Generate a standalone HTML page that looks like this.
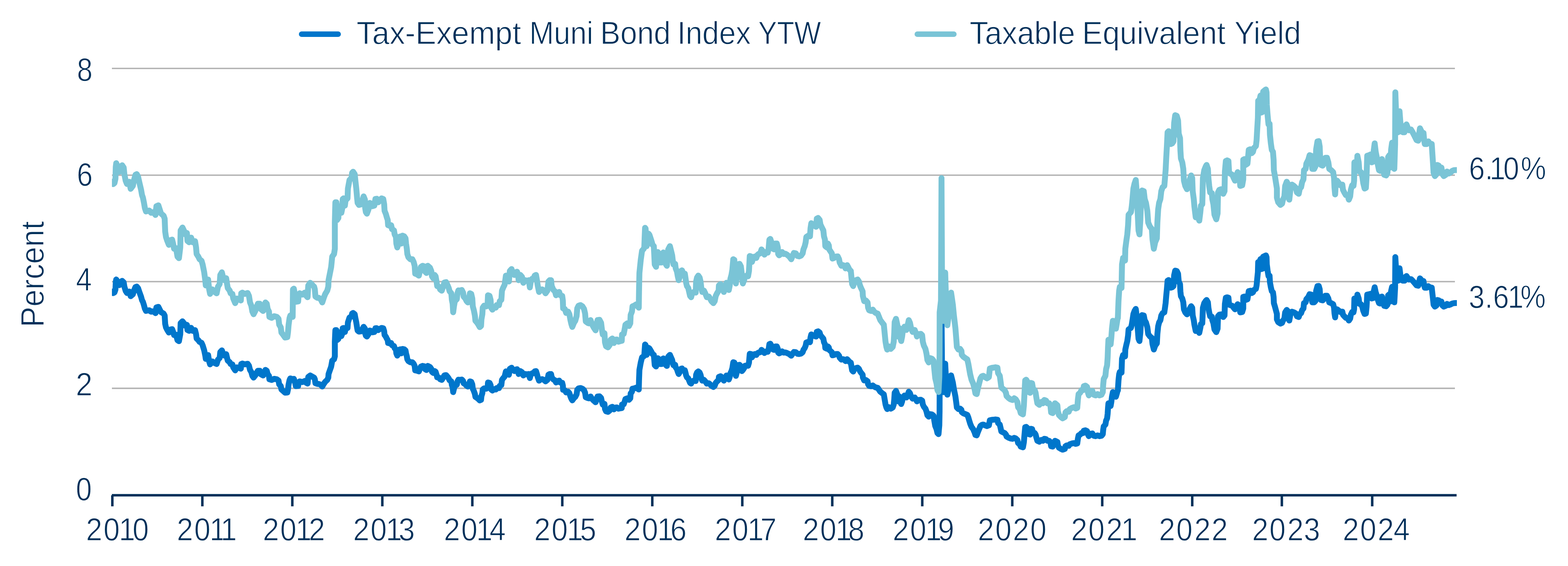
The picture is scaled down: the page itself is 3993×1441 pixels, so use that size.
<!DOCTYPE html>
<html lang="en"><head><meta charset="utf-8"><title>Tax-Exempt Muni Bond Index YTW vs Taxable Equivalent Yield</title>
<style>html,body{margin:0;padding:0;background:#fff;width:3993px;height:1441px;overflow:hidden}svg{display:block}text{font-family:"Liberation Sans",sans-serif;fill:#01305a;stroke:#fff;stroke-width:1.4px;paint-order:fill stroke}</style></head><body>
<svg width="3993" height="1441" viewBox="0 0 3993 1441">
<rect width="3993" height="1441" fill="#fff"/>
<g stroke="#b2b2b2" stroke-width="3.6" fill="none">
<line x1="285" y1="174.3" x2="3705" y2="174.3"/>
<line x1="285" y1="446.0" x2="3705" y2="446.0"/>
<line x1="285" y1="717.0" x2="3705" y2="717.0"/>
<line x1="285" y1="988.6" x2="3705" y2="988.6"/>
</g>
<defs><clipPath id="pc"><rect x="285" y="0" width="3424.9" height="1441"/></clipPath></defs>
<polyline points="283,741.8 288.3,746.2 291.5,744.4 294,737.3 294.8,717.8 296,711.6 299.3,716.7 304,725.9 307.3,718.9 311,715 315,718.9 316.7,729.7 320,740.5 323.3,745.9 329.3,742.3 332.7,754 338.3,749.2 341.7,738.4 345,730.8 348.3,729.7 351.7,734 355,743.8 359.3,755.6 361.7,764.4 364,768.6 366.7,777.3 369,786 371.7,791.4 380,789.9 385,793.6 390.7,792.5 396,797.2 398.3,782.7 403.3,781.2 406.7,788.1 410,794.6 416.7,798.5 419.3,803.3 420.7,824.9 422.7,833.6 426,840.1 430,846.6 434,839 438.3,837.9 440.7,844.4 443.3,853.1 448.3,852 452,866 455.7,868.6 459,850.9 460,822.8 464.7,818 468.3,822.8 471.7,829.3 476,827.1 477.3,840.1 481.7,842.3 486.7,834.7 490.7,842.3 496.7,840.5 499.3,850.9 500.7,861.8 505,866 508.3,870.4 513.3,873 516,879 520,892 522.7,905 524,913.7 530,904 532.7,920.2 535,927.7 540.7,920.2 546.7,924.5 551.7,926.7 555,915.8 559.3,911.5 561,896.4 565,892 568.3,900.7 570.7,905 576,901.8 578.3,911.5 580,918 585,922.3 587.3,926.7 591.7,927.7 594,935.3 599,942.9 603.3,935.3 608.3,936.4 613.3,938.6 614.3,926.7 617.3,925.6 623.3,927.7 630.7,926.2 634,931 636.7,941.8 640,947.2 642.7,956.9 645.7,961.3 650,955.9 654,948.3 656.7,944 661.7,944 664,952.7 670,955.9 673.3,948.3 676,941.8 679.3,944 681.7,952.7 685,956.9 686,965.6 691.7,967.3 698.3,964.5 705,965.6 709.3,968.9 711,978.6 715,982.9 716.7,991.6 721.7,995.9 726,999.8 731.7,999.2 733.3,991.6 735,978.6 737.3,967.8 739.3,963.4 745.3,965.6 746,965.3 748.3,964.4 751.7,974.7 753.3,983.1 759.3,982.6 760.7,972.8 763.3,971 770,972.8 776,970 780,974.7 783.3,976.6 785,959.7 790,955.9 795,958.8 800,961.6 801.7,965.3 803.3,975.7 808.3,977.5 811.7,977.5 816.7,979.4 820.7,984.1 825,976.6 828.3,971.9 833.3,967.2 836,961.6 836.7,952.2 840,942.8 843.3,933.4 846,918.4 850.7,914.7 852.7,907.1 852.7,869.6 854,840.5 856.7,840.5 858.3,865.9 861.7,863 863.3,847.1 866,846.1 869.3,855.6 871.7,849 872.7,835.8 875,834.9 878.3,845.2 880,837.7 885,834.9 886,820.8 890,808.6 895,805.8 896.7,798.3 899.3,796.8 903.3,800.1 905,809.5 907.3,820.8 909.3,833.9 910.7,841.5 914,844.3 920,843.3 923.3,837.7 926,832.1 929.3,836.7 930,849 931.7,854.6 934.3,856.8 938.3,850.8 941.7,841.5 945,842.4 948.3,846.1 953.3,845.2 956,835.8 959.3,835.5 963.3,840.5 966.7,837.7 971.7,834.9 976,835.8 978.3,843.3 979.3,852.7 982.7,857.4 985,862.1 987.3,865.9 988.3,873.3 992.7,874.3 996,873.3 998.3,879 1003.3,880.9 1005,886.5 1008.3,890.2 1009.3,899.6 1011.7,905.3 1015,899.6 1016.7,890.2 1020,889.3 1021.7,899.6 1025,888.4 1029.3,889.3 1032.7,892.2 1034,899.6 1036,907.1 1037.3,914.7 1040,919.3 1045,922.2 1050,922.2 1053.3,925.9 1056,931.6 1057.3,942.8 1061.7,943.7 1066.7,945.6 1069.3,939.1 1071.7,933.4 1076,931.6 1080.7,932.5 1082.7,940 1086,941.9 1089.3,931.6 1095,934.4 1098.3,939.1 1100,946.5 1103.3,949.4 1106.7,944.7 1109.3,946.5 1111.7,954.1 1113.3,960.6 1118.3,961.6 1120.7,965.3 1125,967.2 1128.3,961.6 1131.7,955.6 1136,955 1139.3,958.8 1142.7,963.4 1145,968.2 1149.3,971 1150.7,980.3 1152.7,986 1154,998.2 1156,989.7 1158.3,982.2 1163.3,979.4 1165,971 1167.3,966.8 1171.7,967.2 1176,966.2 1179.3,970 1180.7,975.7 1185,978.5 1188.3,982.2 1191.7,984.1 1195,976.6 1196.7,971 1200,971.9 1202.7,978.5 1204,989.7 1206.7,995.4 1209.3,1002.8 1210.7,1010.4 1215,1013.2 1218.3,1016 1221.7,1019.4 1225,1017.9 1226,1008.5 1228.3,1001 1229.3,991.6 1232.7,988.8 1238.3,989.7 1241.7,986 1242.7,973.8 1246.7,974.7 1249.3,980.3 1250.7,991.6 1254,994.4 1258.3,990.7 1262.7,991.6 1265,987.9 1270.7,987.9 1272.7,982.2 1276.7,980.3 1278.3,967.2 1281.7,962.5 1285,958.8 1288.3,945.6 1291.7,946.5 1296,954.1 1298.3,939.1 1302.7,936.2 1306,941.9 1310,944.7 1313.3,940.9 1316.7,940 1319.3,944.7 1320.7,952.2 1325,944.7 1329.3,947.5 1332.7,955.9 1337.3,952.2 1341.7,953.1 1346.7,952.2 1349.3,962.5 1351.7,954.1 1355,950.3 1358.3,950.3 1361.7,945.6 1365,944.7 1367.3,952.2 1369.3,959.7 1372.7,969.1 1376.7,966.2 1380.7,965.3 1385,967.2 1389.3,971 1394,967.2 1396.7,954.1 1400,952.2 1400,953.1 1403.3,952.2 1405,960.6 1409.3,966.2 1413.3,968.2 1416,973.8 1420.7,970 1424,969.1 1426.7,973.8 1431.7,974.7 1433.3,981.3 1434,992.5 1438.3,993.5 1441.7,999.1 1446.7,997.2 1450,1001 1452.7,1009.4 1455,1015.1 1457.3,1019.2 1461.7,1013.2 1465,1010.4 1468.3,1003.8 1470,992.5 1473.3,988.8 1478.3,987.9 1483.3,989.7 1487.3,993.5 1490,1000 1491.7,1011.3 1496,1013.2 1499.3,1014.1 1504,1009.4 1507.3,1015.1 1511.7,1019.7 1516.7,1024.1 1519.3,1015.1 1521.7,1009.4 1526.7,1009 1530.7,1013.2 1532.7,1022.6 1535,1030.1 1539.3,1028.2 1540.7,1041.4 1543.3,1047 1548.3,1048.5 1552.7,1045.1 1555,1037.6 1559.3,1035.7 1563.3,1042.3 1566.7,1037.6 1570.7,1037.2 1575,1040.4 1580,1039.4 1583.3,1039.1 1584,1030.1 1588.3,1029.1 1590.7,1022.6 1592.7,1016 1597.3,1014.1 1601.7,1017.9 1605,1014.1 1606,1001.9 1609.3,997.2 1610.7,989.7 1615,988.8 1620,986.9 1626.7,991.6 1627.3,968.2 1628.3,941.9 1631.7,923.1 1635,909.9 1639.3,907.1 1640.7,905.3 1641.7,890.2 1642.7,877.1 1644,878.1 1645,886.5 1646.7,903.4 1650,897.8 1651.7,885.6 1654,887.4 1657.3,893.1 1660,897.8 1661.7,901.5 1665,903.4 1666,914.7 1667.3,929.7 1670.7,933 1672.7,920.3 1675,911.9 1678.3,914.7 1680.7,926.8 1685,926.8 1686.7,914.7 1689.3,912.4 1692.7,920.3 1696,929.7 1698.3,931.6 1700,918.4 1701.7,908.1 1706,903.4 1709.3,910.9 1711.7,916.5 1713.3,924 1715,929.7 1719.3,928.8 1720.7,935.3 1724,940 1726,946.5 1728.3,952.2 1731.7,946.5 1734,939.1 1736.7,938.1 1740,942.8 1744,942.8 1746,950.3 1747.3,955.9 1749.3,960.6 1752.7,963.4 1755,969.1 1757.3,974.7 1760,976.6 1762.7,971 1766.7,969.1 1771.7,970 1772.7,954.1 1775,948.5 1778.3,945.6 1781.7,948.5 1784,954.1 1786,963.4 1788.3,969.1 1792.7,967.2 1796,971 1800,976.6 1805,975.7 1808.3,978.5 1811.7,982.2 1816.7,985.1 1820,982.2 1822.7,974.7 1826,971 1830,967.2 1830.7,959.7 1835,957.8 1840,961.6 1843.3,969.1 1846.7,963.4 1850,955.9 1853.3,957.8 1856,966.2 1858.3,959.7 1860,950.3 1862.7,944.7 1865,937.2 1867.3,922.2 1870,923.1 1871.7,942.8 1874,956.9 1876.7,946.5 1878.3,929.7 1883.3,928.8 1886.7,932.5 1889.3,944.7 1891.7,942 1895,937.1 1897.3,931.2 1901.7,930.2 1905,931.2 1907.3,923.3 1909.3,900.7 1913.3,901.6 1915,909.6 1918.3,903.7 1921.7,901.6 1926,903.7 1928.3,899.7 1931.7,897.7 1936,896.7 1939.3,890.8 1942.7,893.8 1946.7,898.7 1950.7,894.8 1955,895.7 1957.3,889.8 1959.3,876.1 1961.7,875.1 1965,881 1968.3,889.8 1971.7,890.8 1975,882 1978.3,882 1980.7,887.9 1981.7,897.7 1984,899.7 1988.3,897.7 1991.7,894.8 1996,897.7 2000,897.3 2004,898.7 2010,901.6 2015,905.6 2018.3,900.7 2021.7,896.1 2026.7,896.7 2030.7,900.7 2035,901.3 2040,900.1 2044,896.7 2046,890.8 2049.3,885.9 2051.7,880 2053.3,872.1 2058.3,870.2 2062.7,871.2 2064,859.4 2066,851.4 2070,853.4 2074,855.4 2078.3,856.8 2080,844.6 2083.3,843.6 2087.3,846.5 2089.3,853.4 2093.3,858.3 2096.7,862.3 2098.3,871.2 2100.7,876.1 2101.7,885.9 2106,887.9 2108.3,882 2110.7,884.9 2111.7,890.8 2115,893.8 2118.3,896.7 2120,904.6 2124,903.7 2128.3,901.6 2133.3,901.3 2136.7,905.6 2138.3,910.5 2142.7,915.5 2146.7,914.5 2150,915.5 2153.3,919.4 2157.3,914.5 2160,917.4 2163.3,921.4 2166.7,923.3 2168.3,933.2 2170,943 2172.7,945.9 2176,939.1 2180,937.1 2184,936.1 2187.3,939.1 2190,945 2192.7,948.9 2196.7,953.9 2197.3,960.7 2200.7,968.6 2205,967.6 2209.3,970.6 2210.7,978.4 2213.3,982.4 2218.3,983.4 2222.7,981.4 2226,984.3 2230,986.3 2235,987.3 2241.7,997.2 2246.7,1001.1 2250.7,1004.1 2252.7,1015.9 2255,1029.6 2257.3,1037.5 2259.3,1041.5 2263.3,1036.6 2268.3,1040.4 2273.3,1037.5 2276,1029.6 2277.3,1015.9 2278.3,1000.1 2281.7,995.2 2285,1004.1 2287.3,1021.8 2289.3,1009 2292.7,1023.7 2295,1028.6 2297.3,1021.8 2299.3,1011.9 2303.3,1007 2308.3,1011.9 2311.7,1004.1 2314.3,997.2 2317.3,1001.1 2320,1009 2324,1014.9 2329.3,1011.9 2333.3,1017.8 2335,1021.8 2340,1018.2 2345,1017.8 2348.3,1019.8 2350,1029.6 2352.7,1035.5 2356.7,1040.4 2359.3,1047.4 2361.7,1057.2 2365,1060.8 2368.3,1054.3 2373.3,1055.2 2377.3,1058.2 2379.3,1071 2381.7,1084.7 2385,1092.7 2387.3,1102.5 2390,1105.2 2392,1082.8 2392.7,1047.4 2392.9,985.3 2396.3,967.6 2397,870.2 2397.6,783.7 2398.3,870.2 2398.8,929.2 2400,982.4 2401.5,998.3 2404,998.3 2405.5,952.9 2407,925.7 2409,964.7 2411,994.2 2412.5,1004.8 2415,994.2 2418,976.5 2422,955.8 2426.5,974.1 2429,989.5 2433,1009.3 2435.5,1027.6 2436.7,1037.5 2440.7,1041.5 2445,1040.4 2448.3,1043.4 2449.3,1049.3 2453.3,1052.3 2458.3,1054.3 2463.3,1056.2 2466,1063.1 2468.3,1071 2470.7,1078.8 2474,1086.8 2478.3,1092.7 2481.7,1100.5 2484,1107.4 2487.3,1108.4 2490,1100.5 2493.3,1092.7 2496.7,1084.7 2500,1081.8 2504,1080.9 2508.3,1082.8 2513.3,1084.7 2518.3,1082.8 2520.7,1070 2525,1069 2530,1068.6 2535,1068 2540,1068.6 2541.7,1076.9 2546,1080.9 2548.3,1090.7 2550,1098.6 2554,1100.5 2558.3,1102.5 2561.7,1106.4 2563.3,1111.3 2568.3,1114.3 2573.3,1116.3 2578.3,1117.2 2582.7,1114.7 2586.7,1116.3 2590.7,1120.2 2592.7,1128.1 2596.7,1131.1 2599.3,1137 2605,1138.9 2607.3,1126.1 2609.3,1102.5 2610.7,1087.7 2613.3,1086.8 2617.3,1090.7 2620,1105.4 2623.3,1106.4 2625,1091.7 2628.3,1092.3 2630.7,1100.5 2635,1102.5 2637.3,1106.4 2639.3,1114.3 2641.7,1122.2 2646.7,1124.6 2651.7,1120.2 2656,1122.2 2659.3,1117.2 2664,1118.2 2667.3,1122.2 2671.7,1122.2 2675,1126.1 2676.7,1136 2680.7,1137 2684,1126.1 2686.7,1122.2 2692.7,1125.2 2694,1134 2696.7,1139.9 2701.7,1142.9 2706,1144.8 2711.7,1142.9 2713.3,1136 2716.7,1134 2721.7,1135 2724,1131.1 2730,1129 2735,1128.1 2739.3,1130.1 2743.3,1129 2745,1116.3 2746.7,1108.4 2750.7,1106.4 2754,1102.5 2758.3,1102.5 2760,1096.6 2764,1095.6 2768.3,1097.6 2770.7,1106.4 2772.7,1110.4 2776.7,1104.5 2781.7,1103.5 2785,1109.4 2790,1110.4 2795,1108.4 2800,1110.4 2805,1109.4 2808.3,1105.4 2809.3,1094.6 2810.7,1085.8 2815,1080.9 2816.7,1071 2819.3,1065.1 2820.7,1053.3 2821.7,1037.5 2822.7,1026.7 2828.3,1033.6 2830,1023.7 2831.7,1010 2834,998.2 2838.3,1002.1 2841.7,1010 2844,1002.1 2846,994.2 2846.7,994.2 2848.3,968.6 2850,952.9 2851.7,946.9 2856,948.9 2856.7,929.2 2857.3,913.5 2860,903.7 2865,907.5 2865.7,889.8 2868.3,878 2870.7,868.2 2872.7,854.4 2874,838.7 2880,834.7 2882,826.9 2884,815.1 2886.3,799.3 2889.3,791.4 2892.3,786.5 2895,807.1 2897.3,836.7 2899.3,862.3 2901.7,868.2 2904,846.5 2906,811.1 2908.3,802.2 2912.7,803.2 2915,815.1 2918.3,821 2921.7,832.8 2924,850.5 2928.3,856.4 2933.3,860.3 2935,876.1 2938.3,889.8 2941.7,880 2946,874.1 2947.3,850.5 2949.3,830.8 2951.7,821 2955,815.1 2957.3,803.2 2960.7,797.3 2965,795.3 2966.7,783.5 2968.3,771.7 2970,752 2971.7,734.3 2973.3,714.6 2976,713 2978.3,724.4 2981.7,732.4 2985,731.4 2988.3,728.4 2990,700.8 2992.7,689 2996.7,690 3000,696.9 3001.7,716.6 3005,723.5 3006,742.2 3007.3,754 3010.7,759.9 3013.3,769.7 3015,787.5 3018.3,795.3 3022.7,800.3 3026.7,795.3 3030,785.5 3033.3,779.6 3036,783.5 3037.3,803.2 3040,815.1 3041.7,826.9 3045,842.6 3049.3,838.7 3054,847.5 3056.7,834.7 3058.3,824.9 3061.7,822.9 3063.3,783.5 3066.7,771.7 3070.7,765.8 3072.7,763.8 3076,769.7 3077.3,783.5 3079.3,795.3 3081.7,805.2 3086,806.2 3087.3,815.1 3090,822.9 3092.7,838.7 3097.3,845.5 3100.7,836.7 3101.7,805.2 3105,801.2 3110,800.3 3115,807.1 3118.3,803.2 3119.3,773.7 3121.7,757.9 3125,756.9 3128.3,757.9 3130,775.7 3135,777.6 3138.3,778.6 3141.7,783.5 3145,787.5 3149.3,779.6 3151.7,774.6 3156,777.6 3158.3,795.3 3163.3,794.4 3166,785.5 3166,756 3169.3,755 3171.7,763.8 3176.7,761.9 3178.3,752 3180,741.2 3184,740.2 3187.3,746.1 3190.7,744.2 3193.3,738.3 3198.3,735.3 3200,726.5 3201.7,708.7 3203.3,693 3204,667.4 3207.3,666.4 3210,659.5 3211.7,685.1 3215,684.1 3216.7,653.6 3220.7,651.6 3223.7,650.3 3225.3,654.6 3226,673.3 3228,689 3230.3,702.8 3233,701.8 3234,718.5 3236.3,731.4 3238.7,741.2 3241.7,744.2 3243.3,756 3244,771.7 3246.7,780.6 3249.3,790.4 3251.7,799.3 3251.7,813 3255,820 3260.7,823.9 3265,821.9 3266.7,817 3270.7,811.1 3272.7,795.3 3276.7,789.1 3280.7,793.4 3282.7,811.1 3283.3,816 3286,801.2 3290,793.4 3295,795.3 3300,798.3 3302.7,805.2 3307.3,807.1 3310,799.3 3313.3,797.3 3316,789.4 3319.3,785.5 3320.7,771.7 3325,769.7 3326.7,761.9 3331.7,756 3335,749.1 3339.3,750.1 3341.7,769.7 3346.7,769.7 3350,765.8 3351.7,740.2 3355,728.4 3358.3,728 3360.7,736.3 3361.7,752 3364,763.8 3368.3,764.8 3372.7,759.9 3375,753 3379.3,753 3382.7,759.9 3385,769.7 3390,771.7 3395,774.6 3397.3,783.5 3398.3,797.3 3400,808.1 3401.7,791.4 3405,787.5 3410,791.4 3413.3,794.4 3418.3,793.4 3420,801.2 3423.3,805.2 3427.3,809.1 3431.7,810.1 3435,816 3438.3,811.1 3440,801.2 3443.3,794.4 3446.7,795.3 3448.3,787.5 3449,759.9 3451.7,761.9 3455,769.7 3456.7,750.1 3460,759.9 3461.7,773.7 3466,774.6 3469.3,781.6 3471.7,791.4 3475,799.3 3478.3,798.3 3480,781.6 3481.7,750.1 3486.7,749.1 3490,748.1 3493.3,759.9 3496.7,758.9 3498.3,742.2 3500.7,731.4 3503.3,744.2 3506,752 3508.3,761.9 3511.7,771.7 3515,772.7 3516.7,756 3519.3,755 3521.7,767.8 3525,778.6 3530,779.6 3533.3,775.7 3535,752 3538.3,749.1 3540,767.8 3542.7,740.2 3545,730.3 3547.3,756 3548.3,756 3550.7,769.7 3552.7,732.4 3553.3,654.6 3555,683.1 3560,714.6 3561.7,693 3564,683.1 3566,698.9 3568.3,712.6 3572.7,714.6 3576.7,714.6 3579.3,704.8 3581.7,702.8 3585,707.7 3588.3,711.7 3593.3,710.7 3597.3,714.6 3600.7,718.5 3604,722.5 3607.3,726.5 3611.7,727.4 3614,716.6 3616,708.7 3619.3,712.6 3621.7,716.6 3625,715.6 3626.7,726.5 3628.3,732.4 3633.3,732.4 3637.3,728.4 3640.7,731.4 3646,732.4 3647.3,744.2 3649.3,761.9 3650.7,775.7 3654,780.6 3658.3,777.6 3660,763.8 3664,764.8 3667.3,769.7 3670.7,767.8 3673.3,777.6 3676.7,780.6 3681.7,778.6 3685,773.7 3689.3,776.7 3695,774.6 3698.3,772.7 3702.7,771.7 3706.7,771.5 3712,771.6" fill="none" stroke="#0076cb" stroke-width="15" stroke-linejoin="round" stroke-linecap="round" clip-path="url(#pc)"/>
<polyline points="283,462 288.3,468.7 291.5,466 294,455 294.8,425 296,415.5 299.3,423.3 304,437.5 307.3,426.7 311,420.7 315,426.7 316.7,443.3 320,460 323.3,468.3 329.3,462.7 332.7,480.7 338.3,473.3 341.7,456.7 345,445 348.3,443.3 351.7,450 355,465 359.3,483.3 361.7,496.7 364,503.3 366.7,516.7 369,530 371.7,538.3 380,536 385,541.7 390.7,540 396,547.3 398.3,525 403.3,522.7 406.7,533.3 410,543.3 416.7,549.3 419.3,556.7 420.7,590 422.7,603.3 426,613.3 430,623.3 434,611.7 438.3,610 440.7,620 443.3,633.3 448.3,631.7 452,653.3 455.7,657.3 459,630 460,586.7 464.7,579.3 468.3,586.7 471.7,596.7 476,593.3 477.3,613.3 481.7,616.7 486.7,605 490.7,616.7 496.7,614 499.3,630 500.7,646.7 505,653.3 508.3,660 513.3,664 516,673.3 520,693.3 522.7,713.3 524,726.7 530,711.7 532.7,736.7 535,748.3 540.7,736.7 546.7,743.3 551.7,746.7 555,730 559.3,723.3 561,700 565,693.3 568.3,706.7 570.7,713.3 576,708.3 578.3,723.3 580,733.3 585,740 587.3,746.7 591.7,748.3 594,760 599,771.7 603.3,760 608.3,761.7 613.3,765 614.3,746.7 617.3,745 623.3,748.3 630.7,746 634,753.3 636.7,770 640,778.3 642.7,793.3 645.7,800 650,791.7 654,780 656.7,773.3 661.7,773.3 664,786.7 670,791.7 673.3,780 676,770 679.3,773.3 681.7,786.7 685,793.3 686,806.7 691.7,809.3 698.3,805 705,806.7 709.3,811.7 711,826.7 715,833.3 716.7,846.7 721.7,853.3 726,859.3 731.7,858.3 733.3,846.7 735,826.7 737.3,810 739.3,803.3 745.3,806.7 746,736.7 748.3,735 751.7,753.3 753.3,768.3 759.3,767.3 760.7,750 763.3,746.7 770,750 776,745 780,753.3 783.3,756.7 785,726.7 790,720 795,725 800,730 801.7,736.7 803.3,755 808.3,758.3 811.7,758.3 816.7,761.7 820.7,770 825,756.7 828.3,748.3 833.3,740 836,730 836.7,713.3 840,696.7 843.3,680 846,653.3 850.7,646.7 852.7,633.3 852.7,566.7 854,515 856.7,515 858.3,560 861.7,555 863.3,526.7 866,525 869.3,541.7 871.7,530 872.7,506.7 875,505 878.3,523.3 880,510 885,505 886,480 890,458.3 895,453.3 896.7,440 899.3,437.3 903.3,443.3 905,460 907.3,480 909.3,503.3 910.7,516.7 914,521.7 920,520 923.3,510 926,500 929.3,508.3 930,530 931.7,540 934.3,544 938.3,533.3 941.7,516.7 945,518.3 948.3,525 953.3,523.3 956,506.7 959.3,506 963.3,515 966.7,510 971.7,505 976,506.7 978.3,520 979.3,536.7 982.7,545 985,553.3 987.3,560 988.3,573.3 992.7,575 996,573.3 998.3,583.3 1003.3,586.7 1005,596.7 1008.3,603.3 1009.3,620 1011.7,630 1015,620 1016.7,603.3 1020,601.7 1021.7,620 1025,600 1029.3,601.7 1032.7,606.7 1034,620 1036,633.3 1037.3,646.7 1040,655 1045,660 1050,660 1053.3,666.7 1056,676.7 1057.3,696.7 1061.7,698.3 1066.7,701.7 1069.3,690 1071.7,680 1076,676.7 1080.7,678.3 1082.7,691.7 1086,695 1089.3,676.7 1095,681.7 1098.3,690 1100,703.3 1103.3,708.3 1106.7,700 1109.3,703.3 1111.7,716.7 1113.3,728.3 1118.3,730 1120.7,736.7 1125,740 1128.3,730 1131.7,719.3 1136,718.3 1139.3,725 1142.7,733.3 1145,741.7 1149.3,746.7 1150.7,763.3 1152.7,773.3 1154,795 1156,780 1158.3,766.7 1163.3,761.7 1165,746.7 1167.3,739.3 1171.7,740 1176,738.3 1179.3,745 1180.7,755 1185,760 1188.3,766.7 1191.7,770 1195,756.7 1196.7,746.7 1200,748.3 1202.7,760 1204,780 1206.7,790 1209.3,803.3 1210.7,816.7 1215,821.7 1218.3,826.7 1221.7,832.7 1225,830 1226,813.3 1228.3,800 1229.3,783.3 1232.7,778.3 1238.3,780 1241.7,773.3 1242.7,751.7 1246.7,753.3 1249.3,763.3 1250.7,783.3 1254,788.3 1258.3,781.7 1262.7,783.3 1265,776.7 1270.7,776.7 1272.7,766.7 1276.7,763.3 1278.3,740 1281.7,731.7 1285,725 1288.3,701.7 1291.7,703.3 1296,716.7 1298.3,690 1302.7,685 1306,695 1310,700 1313.3,693.3 1316.7,691.7 1319.3,700 1320.7,713.3 1325,700 1329.3,705 1332.7,720 1337.3,713.3 1341.7,715 1346.7,713.3 1349.3,731.7 1351.7,716.7 1355,710 1358.3,710 1361.7,701.7 1365,700 1367.3,713.3 1369.3,726.7 1372.7,743.3 1376.7,738.3 1380.7,736.7 1385,740 1389.3,746.7 1394,740 1396.7,716.7 1400,713.3 1400,715 1403.3,713.3 1405,728.3 1409.3,738.3 1413.3,741.7 1416,751.7 1420.7,745 1424,743.3 1426.7,751.7 1431.7,753.3 1433.3,765 1434,785 1438.3,786.7 1441.7,796.7 1446.7,793.3 1450,800 1452.7,815 1455,825 1457.3,832.3 1461.7,821.7 1465,816.7 1468.3,805 1470,785 1473.3,778.3 1478.3,776.7 1483.3,780 1487.3,786.7 1490,798.3 1491.7,818.3 1496,821.7 1499.3,823.3 1504,815 1507.3,825 1511.7,833.3 1516.7,841 1519.3,825 1521.7,815 1526.7,814.3 1530.7,821.7 1532.7,838.3 1535,851.7 1539.3,848.3 1540.7,871.7 1543.3,881.7 1548.3,884.3 1552.7,878.3 1555,865 1559.3,861.7 1563.3,873.3 1566.7,865 1570.7,864.3 1575,870 1580,868.3 1583.3,867.7 1584,851.7 1588.3,850 1590.7,838.3 1592.7,826.7 1597.3,823.3 1601.7,830 1605,823.3 1606,801.7 1609.3,793.3 1610.7,780 1615,778.3 1620,775 1626.7,783.3 1627.3,741.7 1628.3,695 1631.7,661.7 1635,638.3 1639.3,633.3 1640.7,630 1641.7,603.3 1642.7,580 1644,581.7 1645,596.7 1646.7,626.7 1650,616.7 1651.7,595 1654,598.3 1657.3,608.3 1660,616.7 1661.7,623.3 1665,626.7 1666,646.7 1667.3,673.3 1670.7,679.3 1672.7,656.7 1675,641.7 1678.3,646.7 1680.7,668.3 1685,668.3 1686.7,646.7 1689.3,642.7 1692.7,656.7 1696,673.3 1698.3,676.7 1700,653.3 1701.7,635 1706,626.7 1709.3,640 1711.7,650 1713.3,663.3 1715,673.3 1719.3,671.7 1720.7,683.3 1724,691.7 1726,703.3 1728.3,713.3 1731.7,703.3 1734,690 1736.7,688.3 1740,696.7 1744,696.7 1746,710 1747.3,720 1749.3,728.3 1752.7,733.3 1755,743.3 1757.3,753.3 1760,756.7 1762.7,746.7 1766.7,743.3 1771.7,745 1772.7,716.7 1775,706.7 1778.3,701.7 1781.7,706.7 1784,716.7 1786,733.3 1788.3,743.3 1792.7,740 1796,746.7 1800,756.7 1805,755 1808.3,760 1811.7,766.7 1816.7,771.7 1820,766.7 1822.7,753.3 1826,746.7 1830,740 1830.7,726.7 1835,723.3 1840,730 1843.3,743.3 1846.7,733.3 1850,720 1853.3,723.3 1856,738.3 1858.3,726.7 1860,710 1862.7,700 1865,686.7 1867.3,660 1870,661.7 1871.7,696.7 1874,721.7 1876.7,703.3 1878.3,673.3 1883.3,671.7 1886.7,678.3 1889.3,700 1891.7,721.7 1895,713.3 1897.3,703.3 1901.7,701.7 1905,703.3 1907.3,690 1909.3,651.7 1913.3,653.3 1915,666.7 1918.3,656.7 1921.7,653.3 1926,656.7 1928.3,650 1931.7,646.7 1936,645 1939.3,635 1942.7,640 1946.7,648.3 1950.7,641.7 1955,643.3 1957.3,633.3 1959.3,610 1961.7,608.3 1965,618.3 1968.3,633.3 1971.7,635 1975,620 1978.3,620 1980.7,630 1981.7,646.7 1984,650 1988.3,646.7 1991.7,641.7 1996,646.7 2000,646 2004,648.3 2010,653.3 2015,660 2018.3,651.7 2021.7,644 2026.7,645 2030.7,651.7 2035,652.7 2040,650.7 2044,645 2046,635 2049.3,626.7 2051.7,616.7 2053.3,603.3 2058.3,600 2062.7,601.7 2064,581.7 2066,568.3 2070,571.7 2074,575 2078.3,577.3 2080,556.7 2083.3,555 2087.3,560 2089.3,571.7 2093.3,580 2096.7,586.7 2098.3,601.7 2100.7,610 2101.7,626.7 2106,630 2108.3,620 2110.7,625 2111.7,635 2115,640 2118.3,645 2120,658.3 2124,656.7 2128.3,653.3 2133.3,652.7 2136.7,660 2138.3,668.3 2142.7,676.7 2146.7,675 2150,676.7 2153.3,683.3 2157.3,675 2160,680 2163.3,686.7 2166.7,690 2168.3,706.7 2170,723.3 2172.7,728.3 2176,716.7 2180,713.3 2184,711.7 2187.3,716.7 2190,726.7 2192.7,733.3 2196.7,741.7 2197.3,753.3 2200.7,766.7 2205,765 2209.3,770 2210.7,783.3 2213.3,790 2218.3,791.7 2222.7,788.3 2226,793.3 2230,796.7 2235,798.3 2241.7,815 2246.7,821.7 2250.7,826.7 2252.7,846.7 2255,870 2257.3,883.3 2259.3,890 2263.3,881.7 2268.3,888.3 2273.3,883.3 2276,870 2277.3,846.7 2278.3,820 2281.7,811.7 2285,826.7 2287.3,856.7 2289.3,835 2292.7,860 2295,868.3 2297.3,856.7 2299.3,840 2303.3,831.7 2308.3,840 2311.7,826.7 2314.3,815 2317.3,821.7 2320,835 2324,845 2329.3,840 2333.3,850 2335,856.7 2340,850.7 2345,850 2348.3,853.3 2350,870 2352.7,880 2356.7,888.3 2359.3,900 2361.7,916.7 2365,922.7 2368.3,911.7 2373.3,913.3 2377.3,918.3 2379.3,940 2381.7,963.3 2385,976.7 2387.3,993.3 2390,998 2392,960 2392.7,900 2392.9,795 2396.3,765 2397,600 2397.6,453.6 2398.3,600 2398.8,700 2400,790 2401.5,817 2404,817 2405.5,740 2407,694 2409,760 2411,810 2412.5,828 2415,810 2418,780 2422,745 2426.5,776 2429,802 2433,835.5 2435.5,866.5 2436.7,883.3 2440.7,890 2445,888.3 2448.3,893.3 2449.3,903.3 2453.3,908.3 2458.3,911.7 2463.3,915 2466,926.7 2468.3,940 2470.7,953.3 2474,966.7 2478.3,976.7 2481.7,990 2484,1001.7 2487.3,1003.3 2490,990 2493.3,976.7 2496.7,963.3 2500,958.3 2504,956.7 2508.3,960 2513.3,963.3 2518.3,960 2520.7,938.3 2525,936.7 2530,936 2535,935 2540,936 2541.7,950 2546,956.7 2548.3,973.3 2550,986.7 2554,990 2558.3,993.3 2561.7,1000 2563.3,1008.3 2568.3,1013.3 2573.3,1016.7 2578.3,1018.3 2582.7,1014 2586.7,1016.7 2590.7,1023.3 2592.7,1036.7 2596.7,1041.7 2599.3,1051.7 2605,1055 2607.3,1033.3 2609.3,993.3 2610.7,968.3 2613.3,966.7 2617.3,973.3 2620,998.3 2623.3,1000 2625,975 2628.3,976 2630.7,990 2635,993.3 2637.3,1000 2639.3,1013.3 2641.7,1026.7 2646.7,1030.7 2651.7,1023.3 2656,1026.7 2659.3,1018.3 2664,1020 2667.3,1026.7 2671.7,1026.7 2675,1033.3 2676.7,1050 2680.7,1051.7 2684,1033.3 2686.7,1026.7 2692.7,1031.7 2694,1046.7 2696.7,1056.7 2701.7,1061.7 2706,1065 2711.7,1061.7 2713.3,1050 2716.7,1046.7 2721.7,1048.3 2724,1041.7 2730,1038.3 2735,1036.7 2739.3,1040 2743.3,1038.3 2745,1016.7 2746.7,1003.3 2750.7,1000 2754,993.3 2758.3,993.3 2760,983.3 2764,981.7 2768.3,985 2770.7,1000 2772.7,1006.7 2776.7,996.7 2781.7,995 2785,1005 2790,1006.7 2795,1003.3 2800,1006.7 2805,1005 2808.3,998.3 2809.3,980 2810.7,965 2815,956.7 2816.7,940 2819.3,930 2820.7,910 2821.7,883.3 2822.7,865 2828.3,876.7 2830,860 2831.7,836.7 2834,816.7 2838.3,823.3 2841.7,836.7 2844,823.3 2846,810 2846.7,810 2848.3,766.7 2850,740 2851.7,730 2856,733.3 2856.7,700 2857.3,673.3 2860,656.7 2865,663.3 2865.7,633.3 2868.3,613.3 2870.7,596.7 2872.7,573.3 2874,546.7 2880,540 2882,526.7 2884,506.7 2886.3,480 2889.3,466.7 2892.3,458.3 2895,493.3 2897.3,543.3 2899.3,586.7 2901.7,596.7 2904,560 2906,500 2908.3,485 2912.7,486.7 2915,506.7 2918.3,516.7 2921.7,536.7 2924,566.7 2928.3,576.7 2933.3,583.3 2935,610 2938.3,633.3 2941.7,616.7 2946,606.7 2947.3,566.7 2949.3,533.3 2951.7,516.7 2955,506.7 2957.3,486.7 2960.7,476.7 2965,473.3 2966.7,453.3 2968.3,433.3 2970,400 2971.7,370 2973.3,336.7 2976,334 2978.3,353.3 2981.7,366.7 2985,365 2988.3,360 2990,313.3 2992.7,293.3 2996.7,295 3000,306.7 3001.7,340 3005,351.7 3006,383.3 3007.3,403.3 3010.7,413.3 3013.3,430 3015,460 3018.3,473.3 3022.7,481.7 3026.7,473.3 3030,456.7 3033.3,446.7 3036,453.3 3037.3,486.7 3040,506.7 3041.7,526.7 3045,553.3 3049.3,546.7 3054,561.7 3056.7,540 3058.3,523.3 3061.7,520 3063.3,453.3 3066.7,433.3 3070.7,423.3 3072.7,420 3076,430 3077.3,453.3 3079.3,473.3 3081.7,490 3086,491.7 3087.3,506.7 3090,520 3092.7,546.7 3097.3,558.3 3100.7,543.3 3101.7,490 3105,483.3 3110,481.7 3115,493.3 3118.3,486.7 3119.3,436.7 3121.7,410 3125,408.3 3128.3,410 3130,440 3135,443.3 3138.3,445 3141.7,453.3 3145,460 3149.3,446.7 3151.7,438.3 3156,443.3 3158.3,473.3 3163.3,471.7 3166,456.7 3166,406.7 3169.3,405 3171.7,420 3176.7,416.7 3178.3,400 3180,381.7 3184,380 3187.3,390 3190.7,386.7 3193.3,376.7 3198.3,371.7 3200,356.7 3201.7,326.7 3203.3,300 3204,256.7 3207.3,255 3210,243.3 3211.7,286.7 3215,285 3216.7,233.3 3220.7,230 3223.7,227.7 3225.3,235 3226,266.7 3228,293.3 3230.3,316.7 3233,315 3234,343.3 3236.3,365 3238.7,381.7 3241.7,386.7 3243.3,406.7 3244,433.3 3246.7,448.3 3249.3,465 3251.7,480 3251.7,503.3 3255,515 3260.7,521.7 3265,518.3 3266.7,510 3270.7,500 3272.7,473.3 3276.7,462.7 3280.7,470 3282.7,500 3283.3,508.3 3286,483.3 3290,470 3295,473.3 3300,478.3 3302.7,490 3307.3,493.3 3310,480 3313.3,476.7 3316,463.3 3319.3,456.7 3320.7,433.3 3325,430 3326.7,416.7 3331.7,406.7 3335,395 3339.3,396.7 3341.7,430 3346.7,430 3350,423.3 3351.7,380 3355,360 3358.3,359.3 3360.7,373.3 3361.7,400 3364,420 3368.3,421.7 3372.7,413.3 3375,401.7 3379.3,401.7 3382.7,413.3 3385,430 3390,433.3 3395,438.3 3397.3,453.3 3398.3,476.7 3400,495 3401.7,466.7 3405,460 3410,466.7 3413.3,471.7 3418.3,470 3420,483.3 3423.3,490 3427.3,496.7 3431.7,498.3 3435,508.3 3438.3,500 3440,483.3 3443.3,471.7 3446.7,473.3 3448.3,460 3449,413.3 3451.7,416.7 3455,430 3456.7,396.7 3460,413.3 3461.7,436.7 3466,438.3 3469.3,450 3471.7,466.7 3475,480 3478.3,478.3 3480,450 3481.7,396.7 3486.7,395 3490,393.3 3493.3,413.3 3496.7,411.7 3498.3,383.3 3500.7,365 3503.3,386.7 3506,400 3508.3,416.7 3511.7,433.3 3515,435 3516.7,406.7 3519.3,405 3521.7,426.7 3525,445 3530,446.7 3533.3,440 3535,400 3538.3,395 3540,426.7 3542.7,380 3545,363.3 3547.3,406.7 3548.3,406.7 3550.7,430 3552.7,366.7 3553.3,235 3555,283.3 3560,336.7 3561.7,300 3564,283.3 3566,310 3568.3,333.3 3572.7,336.7 3576.7,336.7 3579.3,320 3581.7,316.7 3585,325 3588.3,331.7 3593.3,330 3597.3,336.7 3600.7,343.3 3604,350 3607.3,356.7 3611.7,358.3 3614,340 3616,326.7 3619.3,333.3 3621.7,340 3625,338.3 3626.7,356.7 3628.3,366.7 3633.3,366.7 3637.3,360 3640.7,365 3646,366.7 3647.3,386.7 3649.3,416.7 3650.7,440 3654,448.3 3658.3,443.3 3660,420 3664,421.7 3667.3,430 3670.7,426.7 3673.3,443.3 3676.7,448.3 3681.7,445 3685,436.7 3689.3,441.7 3695,438.3 3698.3,435 3702.7,433.3 3706.7,433 3712,433.1" fill="none" stroke="#7ac4d6" stroke-width="15" stroke-linejoin="round" stroke-linecap="round" clip-path="url(#pc)"/>
<g stroke="#01305a" fill="none">
<line x1="284.8" y1="1260.9" x2="3709.3" y2="1260.9" stroke-width="6.4"/>
<line x1="286.1" y1="1261" x2="286.1" y2="1289.1" stroke-width="6.3"/>
<line x1="515.3" y1="1261" x2="515.3" y2="1289.1" stroke-width="6.3"/>
<line x1="744.4" y1="1261" x2="744.4" y2="1289.1" stroke-width="6.3"/>
<line x1="973.6" y1="1261" x2="973.6" y2="1289.1" stroke-width="6.3"/>
<line x1="1202.8" y1="1261" x2="1202.8" y2="1289.1" stroke-width="6.3"/>
<line x1="1431.9" y1="1261" x2="1431.9" y2="1289.1" stroke-width="6.3"/>
<line x1="1661.1" y1="1261" x2="1661.1" y2="1289.1" stroke-width="6.3"/>
<line x1="1890.3" y1="1261" x2="1890.3" y2="1289.1" stroke-width="6.3"/>
<line x1="2119.4" y1="1261" x2="2119.4" y2="1289.1" stroke-width="6.3"/>
<line x1="2348.6" y1="1261" x2="2348.6" y2="1289.1" stroke-width="6.3"/>
<line x1="2577.8" y1="1261" x2="2577.8" y2="1289.1" stroke-width="6.3"/>
<line x1="2806.9" y1="1261" x2="2806.9" y2="1289.1" stroke-width="6.3"/>
<line x1="3036.1" y1="1261" x2="3036.1" y2="1289.1" stroke-width="6.3"/>
<line x1="3264.3" y1="1261" x2="3264.3" y2="1289.1" stroke-width="6.3"/>
<line x1="3494.4" y1="1261" x2="3494.4" y2="1289.1" stroke-width="6.3"/>
</g>
<line x1="768.2" y1="87" x2="861" y2="87" stroke="#0076cb" stroke-width="14.2" stroke-linecap="round"/>
<line x1="2336.1" y1="87" x2="2429" y2="87" stroke="#7ac4d6" stroke-width="14.2" stroke-linecap="round"/>
<text transform="translate(908.08 112.30) scale(0.9658 1)" font-size="82.17">Tax-Exempt</text>
<text transform="translate(1347.90 112.30) scale(0.9148 1)" font-size="82.17">Muni</text>
<text transform="translate(1528.46 112.30) scale(0.9347 1)" font-size="82.17">Bond</text>
<text transform="translate(1724.80 112.30) scale(0.9312 1)" font-size="82.17">Index</text>
<text transform="translate(1930.86 112.30) scale(0.8758 1)" font-size="82.17">YTW</text>
<text transform="translate(2469.31 112.30) scale(0.9482 1)" font-size="82.17">Taxable</text>
<text transform="translate(2755.75 112.30) scale(0.9523 1)" font-size="82.17">Equivalent</text>
<text transform="translate(3143.53 112.30) scale(0.9438 1)" font-size="82.17">Yield</text>
<text transform="translate(195.96 205.50) scale(0.8576 1)" font-size="83.19">8</text>
<text transform="translate(195.78 472.70) scale(0.8697 1)" font-size="83.19">6</text>
<text transform="translate(193.51 740.10) scale(0.8698 1)" font-size="83.19">4</text>
<text transform="translate(193.02 1006.90) scale(0.9174 1)" font-size="83.19">2</text>
<text transform="translate(193.22 1273.50) scale(0.8768 1)" font-size="83.19">0</text>
<text transform="translate(0 1376.10) scale(0.9050 1)" font-size="82.32" x="242.08 291.09 334.50 372.97" y="0">2010</text>
<text transform="translate(0 1376.10) scale(0.9050 1)" font-size="82.32" x="497.43 546.39 589.86 620.69" y="0">2011</text>
<text transform="translate(0 1376.10) scale(0.9050 1)" font-size="82.32" x="739.37 788.33 831.74 868.93" y="0">2012</text>
<text transform="translate(0 1376.10) scale(0.9050 1)" font-size="82.32" x="993.62 1042.47 1085.77 1121.46" y="0">2013</text>
<text transform="translate(0 1376.10) scale(0.9050 1)" font-size="82.32" x="1248.87 1297.83 1340.03 1377.26" y="0">2014</text>
<text transform="translate(0 1376.10) scale(0.9050 1)" font-size="82.32" x="1502.96 1551.92 1595.16 1632.05" y="0">2015</text>
<text transform="translate(0 1376.10) scale(0.9050 1)" font-size="82.32" x="1757.16 1806.12 1849.53 1886.11" y="0">2016</text>
<text transform="translate(0 1376.10) scale(0.9050 1)" font-size="82.32" x="2011.25 2060.21 2103.45 2139.39" y="0">2017</text>
<text transform="translate(0 1376.10) scale(0.9050 1)" font-size="82.32" x="2258.71 2307.66 2351.08 2386.34" y="0">2018</text>
<text transform="translate(0 1376.10) scale(0.9050 1)" font-size="82.32" x="2511.80 2560.65 2604.00 2639.12" y="0">2019</text>
<text transform="translate(0 1376.10) scale(0.9050 1)" font-size="82.32" x="2751.47 2800.48 2850.14 2898.99" y="0">2020</text>
<text transform="translate(0 1376.10) scale(0.9050 1)" font-size="82.32" x="3013.68 3062.58 3113.01 3154.83" y="0">2021</text>
<text transform="translate(0 1376.10) scale(0.9050 1)" font-size="82.32" x="3261.03 3310.04 3360.69 3409.20" y="0">2022</text>
<text transform="translate(0 1376.10) scale(0.9050 1)" font-size="82.32" x="3523.13 3571.92 3622.35 3668.86" y="0">2023</text>
<text transform="translate(0 1376.10) scale(0.9050 1)" font-size="82.32" x="3778.26 3827.11 3876.61 3921.29" y="0">2024</text>
<text transform="translate(0 457.40) scale(0.8850 1)" font-size="82.03" x="4226.97 4273.29 4286.31 4325.61 4375.96" y="0">6.10%</text>
<text transform="translate(0 783.50) scale(0.8850 1)" font-size="82.03" x="4226.38 4272.55 4296.35 4338.51 4374.83" y="0">3.61%</text>
<text transform="translate(111.40 833.07) rotate(-90) scale(0.9345 1)" font-size="83.91">Percent</text>
</svg></body></html>
